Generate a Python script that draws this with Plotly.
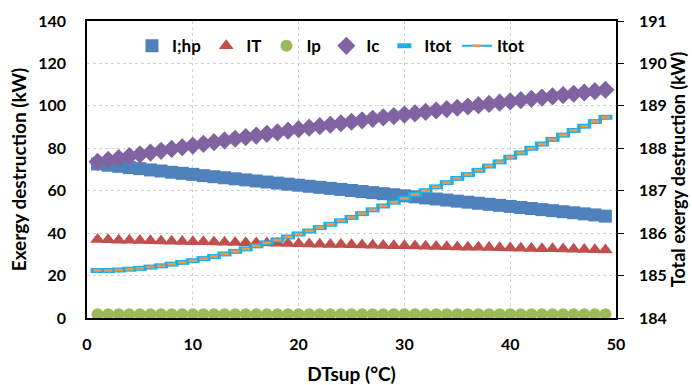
import plotly.graph_objects as go

dt_sup = list(range(1, 50))

i_hp = [72.6, 72.0, 71.5, 70.9, 70.4, 69.8, 69.3, 68.7, 68.2, 67.7,
        67.1, 66.6, 66.1, 65.6, 65.1, 64.6, 64.1, 63.6, 63.1, 62.6,
        62.1, 61.6, 61.1, 60.6, 60.1, 59.6, 59.1, 58.6, 58.1, 57.6,
        57.1, 56.6, 56.1, 55.6, 55.1, 54.6, 54.1, 53.6, 53.1, 52.6,
        52.1, 51.6, 51.1, 50.6, 50.1, 49.6, 49.1, 48.6, 48.0]

i_t = [37.0, 36.9, 36.7, 36.6, 36.5, 36.4, 36.3, 36.2, 36.1, 36.0,
       35.9, 35.8, 35.7, 35.6, 35.5, 35.4, 35.3, 35.2, 35.1, 35.0,
       34.9, 34.8, 34.7, 34.6, 34.5, 34.4, 34.3, 34.2, 34.1, 34.0,
       33.9, 33.8, 33.7, 33.6, 33.5, 33.4, 33.3, 33.2, 33.1, 33.0,
       32.9, 32.8, 32.7, 32.6, 32.5, 32.4, 32.3, 32.2, 32.1]

i_p = [1.8, 1.8, 1.8, 1.8, 1.8, 1.8, 1.8, 1.8, 1.8, 1.8,
       1.8, 1.8, 1.8, 1.8, 1.8, 1.8, 1.8, 1.8, 1.8, 1.8,
       1.8, 1.8, 1.8, 1.8, 1.8, 1.8, 1.8, 1.8, 1.8, 1.8,
       1.8, 1.8, 1.8, 1.8, 1.8, 1.8, 1.8, 1.8, 1.8, 1.8,
       1.8, 1.8, 1.8, 1.8, 1.8, 1.8, 1.8, 1.8, 1.8]

i_c = [73.6, 74.5, 75.4, 76.3, 77.1, 78.0, 78.8, 79.7, 80.5, 81.3,
       82.1, 82.9, 83.7, 84.5, 85.3, 86.0, 86.8, 87.5, 88.3, 89.0,
       89.7, 90.4, 91.1, 91.8, 92.5, 93.2, 93.9, 94.6, 95.2, 95.9,
       96.5, 97.2, 97.8, 98.5, 99.1, 99.7, 100.3, 100.9, 101.5, 102.1,
       102.7, 103.3, 103.9, 104.5, 105.1, 105.7, 106.3, 106.9, 107.6]

i_tot = [185.12, 185.12, 185.13, 185.15, 185.17, 185.20, 185.23, 185.27, 185.31, 185.35,
         185.40, 185.45, 185.51, 185.57, 185.63, 185.70, 185.77, 185.84, 185.91, 185.98,
         186.05, 186.13, 186.21, 186.29, 186.37, 186.46, 186.55, 186.64, 186.73, 186.82,
         186.91, 187.00, 187.09, 187.19, 187.29, 187.38, 187.48, 187.58, 187.68, 187.79,
         187.89, 188.00, 188.10, 188.21, 188.31, 188.42, 188.52, 188.63, 188.73]

x_ticks = [0, 10, 20, 30, 40, 50]
y_left_ticks = [0, 20, 40, 60, 80, 100, 120, 140]
y_right_ticks = [184, 185, 186, 187, 188, 189, 190, 191]

FONT = "Lato"
fig = go.Figure()

fig.add_trace(go.Scatter(x=dt_sup, y=i_hp, mode="markers", name="<b>I;hp</b>",
                         marker=dict(symbol="square", size=13, color="#4F81BD")))
fig.add_trace(go.Scatter(x=dt_sup, y=i_t, mode="markers", name="<b>IT</b>",
                         marker=dict(symbol="triangle-up", size=13, color="#C0504D")))
fig.add_trace(go.Scatter(x=dt_sup, y=i_p, mode="markers", name="<b>Ip</b>",
                         marker=dict(symbol="circle", size=12, color="#9BBB59")))
fig.add_trace(go.Scatter(x=dt_sup, y=i_c, mode="markers", name="<b>Ic</b>",
                         marker=dict(symbol="diamond", size=14, color="#8064A2")))
fig.add_trace(go.Scatter(x=dt_sup, y=i_tot, mode="markers", name="<b>Itot</b>", yaxis="y2",
                         marker=dict(symbol="line-ew", size=10,
                                     line=dict(color="#1CB0E6", width=5))))
fig.add_trace(go.Scatter(x=dt_sup, y=i_tot, mode="lines+markers", name="<b>Itot</b>", yaxis="y2",
                         line=dict(color="#1CB0E6", width=2),
                         marker=dict(symbol="line-ew", size=6,
                                     line=dict(color="#F79646", width=2.5))))

tick_font = dict(family=FONT, size=16, color="black")
title_font = dict(family=FONT, size=19, color="black")
fig.update_layout(
    width=692, height=385,
    margin=dict(l=87, r=76, t=21, b=67),
    paper_bgcolor="white", plot_bgcolor="white",
    font=dict(family=FONT, size=16, color="black"),
    legend=dict(orientation="h", x=0.085, y=0.915, xanchor="left", yanchor="middle",
                font=dict(family=FONT, size=17, color="black"),
                bgcolor="rgba(0,0,0,0)", itemwidth=30, tracegroupgap=0),
    xaxis=dict(range=[0, 50], tickvals=x_ticks, ticktext=[f"<b>{v}</b>" for v in x_ticks],
               showline=True, linecolor="black", linewidth=1.5, mirror=True,
               showgrid=True, gridcolor="#D0D0D0", griddash="dot", gridwidth=1,
               zeroline=False, ticks="", tickfont=tick_font, automargin=False,
               ticklabelstandoff=11,
               title=dict(text="<b>DTsup (°C)</b>", font=title_font, standoff=24)),
    yaxis=dict(range=[0, 140], tickvals=y_left_ticks, ticktext=[f"<b>{v}</b>" for v in y_left_ticks],
               showline=True, linecolor="black", linewidth=1.5,
               showgrid=True, gridcolor="#D0D0D0", griddash="dot", gridwidth=1,
               zeroline=False, ticks="", tickfont=tick_font, automargin=False,
               ticklabelstandoff=16,
               title=dict(text="<b>Exergy destruction (kW)</b>", font=title_font, standoff=7)),
    yaxis2=dict(range=[184, 191], tickvals=y_right_ticks, ticktext=[f"<b>{v}</b>" for v in y_right_ticks],
                overlaying="y", side="right",
                showline=True, linecolor="black", linewidth=1.5,
                showgrid=False, zeroline=False, ticks="outside", ticklen=6, tickcolor="black",
                tickfont=tick_font, automargin=False, ticklabelstandoff=12,
                title=dict(text="<b>Total exergy destruction (kW)</b>",
                           font=dict(family=FONT, size=18, color="black"), standoff=4)),
)

fig.write_html("out.html", config={"displayModeBar": False},
               post_script="document.body.style.margin='0px';document.body.style.overflow='hidden';")
